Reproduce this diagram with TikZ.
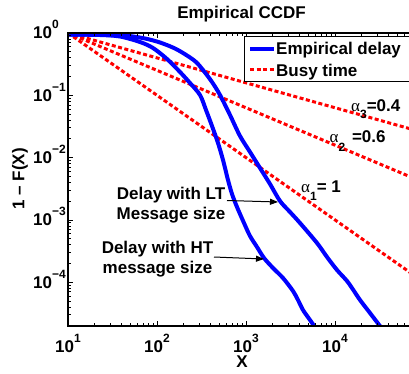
\documentclass[tikz,border=0pt]{standalone}
\usepackage{fontspec}
\setmainfont{Liberation Sans}
\newfontfamily\symfont{Liberation Serif}
\usetikzlibrary{arrows.meta}
\definecolor{dblue}{RGB}{0,0,255}
\definecolor{bred}{RGB}{255,0,0}
\tikzset{
  lbl/.style={font=\fontsize{17}{20}\selectfont\bfseries, inner sep=0pt},
  delay/.style={draw=dblue, line width=4pt},
  busy/.style={draw=bred, line width=3pt, dash pattern=on 4pt off 2.5pt},
  axisline/.style={line width=1.2pt, line cap=rect},
  tickline/.style={line width=0.8pt},
  note/.style={-{Triangle[length=8pt,width=6pt]}, line width=1pt},
}
\newcommand{\supx}[1]{\raisebox{10pt}{\fontsize{12}{12}\selectfont #1}}
\newcommand{\subx}[1]{\raisebox{-8pt}{\fontsize{12}{12}\selectfont #1}}
\newcommand{\alf}{{\symfont\mdseries α}}
\begin{document}
\begin{tikzpicture}[x=1pt,y=-1pt]
\useasboundingbox (0,0) rectangle (409,374);
\fill[white] (0,0) rectangle (409,374);
\begin{scope}
\clip (68,33) rectangle (415,326);
% busy time (power laws)
\draw[busy] (68,33) -- (412,129.3);
\draw[busy] (68,33) -- (412,177.5);
\draw[busy] (68,33) -- (412,273.8);
% empirical delays
\draw[delay] plot[smooth, tension=0.5] coordinates {(66,34.5) (100,34.8) (127,35.8) (145,38.5) (160,42.5) (175,48.5) (187,55.5) (196,62) (203,70) (212,82) (220,95) (230,115) (240,136) (250,152) (260,168) (270,184) (280,201) (290,212) (300,223) (317,243) (327,257) (337,270) (347,281) (354,291) (360,300) (370,313) (383,330)};
\draw[delay] plot[smooth, tension=0.5] coordinates {(66,34.5) (100,35) (120,36.5) (140,42) (153,48) (167,59) (180,72) (190,83) (200,95) (206,110) (212,126) (218,143) (223,160) (228,180) (232,194) (237,207) (244,223) (250,236) (257,247) (264,258) (273,268) (283,278) (293,291) (298,300) (303,310) (310,320) (317,330)};
% ticks
\foreach \d in {1,2,3,4} \foreach \k in {1,...,9} {
  \pgfmathsetmacro\xx{68+89*(\d-1+log10(\k))}
  \pgfmathsetmacro\tl{ifthenelse(\k==1,5,3)}
  \draw[tickline] (\xx,326) -- ++(0,-\tl);
  \draw[tickline] (\xx,33) -- ++(0,\tl);
}
\foreach \d in {0,...,5} \foreach \k in {1,...,9} {
  \pgfmathsetmacro\yy{33+62.3*(\d-log10(\k))}
  \pgfmathsetmacro\tl{ifthenelse(\k==1,5,3)}
  \draw[tickline] (68,\yy) -- ++(\tl,0);
}
\end{scope}
% axes
\draw[axisline] (409,33) -- (68,33) -- (68,326) -- (409,326);
% legend
\draw[fill=white, line width=1pt] (244,37) rectangle (415,82);
\coordinate (lgA1) at (250,49); \coordinate (lgA2) at (274,49);
\coordinate (lgB1) at (250,70); \coordinate (lgB2) at (274,70);
\draw[delay] (lgA1) -- (lgA2);
\draw[busy] (lgB1) -- (lgB2);
\node[lbl, anchor=base west] (lg1) at (276,55) {Empirical delay};
\node[lbl, anchor=base west] (lg2) at (276,76.5) {Busy time};
% title and axis labels
\node[lbl, anchor=base] (title) at (241.5,19) {Empirical CCDF};
\node[lbl, anchor=base] (xlab) at (242,367) {X};
\node[lbl, rotate=90] (ylab) at (20,179) {1 – F(X)};
% tick labels
\node[lbl, anchor=base] (x1) at (68,352) {10\supx{1}};
\node[lbl, anchor=base] (x2) at (157,352) {10\supx{2}};
\node[lbl, anchor=base] (x3) at (246,352) {10\supx{3}};
\node[lbl, anchor=base] (x4) at (335,352) {10\supx{4}};
\node[lbl, anchor=base west] (y0) at (33,39) {10\supx{0}};
\node[lbl, anchor=base west] (y1) at (33,101.3) {10\supx{−1}};
\node[lbl, anchor=base west] (y2) at (33,163.6) {10\supx{−2}};
\node[lbl, anchor=base west] (y3) at (33,225.9) {10\supx{−3}};
\node[lbl, anchor=base west] (y4) at (33,288.2) {10\supx{−4}};
% alpha labels
\node[lbl, anchor=base west] (a3) at (351,112) {\alf\raisebox{-7pt}{\fontsize{12}{12}\selectfont 3}=0.4};
\node[lbl, anchor=base west] (a2) at (329.5,143) {\alf\raisebox{-9pt}{\fontsize{12}{12}\selectfont 2}\hspace{2pt} =0.6};
\node[lbl, anchor=base west] (a1) at (301,192) {\alf\subx{1}= 1};
% annotations
\node[lbl, anchor=base] (lt1) at (171,199) {Delay with LT};
\node[lbl, anchor=base] (lt2) at (171,219) {Message size};
\node[lbl, anchor=base] (ht1) at (157.5,253) {Delay with HT};
\node[lbl, anchor=base] (ht2) at (157.5,273) {message size};
\coordinate (ltTail) at (227,200.5);
\coordinate (ltTip) at (278,202);
\coordinate (htTail) at (214,257);
\coordinate (htTip) at (264,259);
\draw[note] (ltTail) -- (ltTip);
\draw[note] (htTail) -- (htTip);
\end{tikzpicture}
\end{document}
